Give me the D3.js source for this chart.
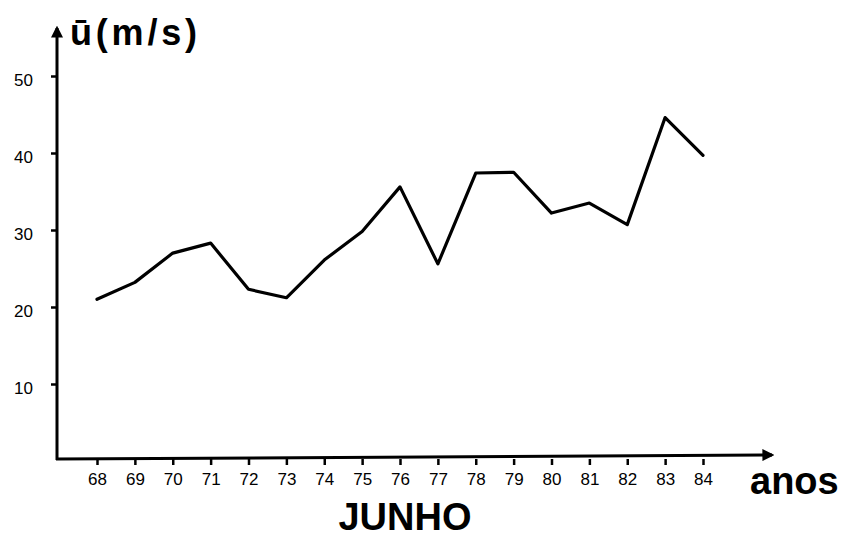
<!DOCTYPE html>
<html>
<head>
<meta charset="utf-8">
<script src="https://cdn.jsdelivr.net/npm/d3@7"></script>
<style>
  body { margin: 0; background: #fff; }
  svg { display: block; }
  .tick text { font-family: "Liberation Sans", Arial, sans-serif; font-size: 17px; fill: #000; }
</style>
</head>
<body>
<svg id="chart" width="841" height="541"></svg>
<script>
// Mean wind speed (m/s) for June, years 68-84
const years = [68, 69, 70, 71, 72, 73, 74, 75, 76, 77, 78, 79, 80, 81, 82, 83, 84];
const speeds = [21, 23.2, 27, 28.3, 22.3, 21.2, 26.1, 29.8, 35.6, 25.6, 37.4, 37.5, 32.2, 33.5, 30.7, 44.6, 39.7];
const yTicks = [10, 20, 30, 40, 50];

const svg = d3.select("#chart");
const axisX = 57;
const axisY = 459;

const x = d3.scaleLinear().domain([68, 84]).range([97, 703]);
const y = d3.scaleLinear().domain([0, 50]).range([461, 76]);

// arrow heads
const defs = svg.append("defs");
defs.append("marker")
    .attr("id", "arrow")
    .attr("viewBox", "0 0 10 10")
    .attr("refX", 8)
    .attr("refY", 5)
    .attr("markerWidth", 4)
    .attr("markerHeight", 4)
    .attr("markerUnits", "strokeWidth")
    .attr("orient", "auto")
    .append("path")
    .attr("d", "M0,0 L10,5 L0,10 Z")
    .attr("fill", "#000");

// axis lines
svg.append("line")
    .attr("x1", axisX).attr("y1", axisY + 1)
    .attr("x2", axisX).attr("y2", 28)
    .attr("stroke", "#000").attr("stroke-width", 3)
    .attr("marker-end", "url(#arrow)");

svg.append("line")
    .attr("x1", axisX - 1).attr("y1", axisY)
    .attr("x2", 772).attr("y2", axisY - 4)
    .attr("stroke", "#000").attr("stroke-width", 3)
    .attr("marker-end", "url(#arrow)");

// y ticks
const yAxis = svg.append("g")
    .attr("transform", `translate(${axisX},0)`)
    .call(d3.axisLeft(y).tickValues(yTicks).tickSize(6).tickPadding(18).tickSizeOuter(0));
yAxis.select(".domain").remove();
yAxis.selectAll(".tick line").attr("stroke", "#000").attr("stroke-width", 2.5);
yAxis.selectAll(".tick text").attr("dy", "0.55em");

// x ticks
const xAxis = svg.append("g")
    .attr("transform", `translate(0,${axisY})`)
    .call(d3.axisBottom(x).tickValues(years).tickFormat(d3.format("d")).tickSize(6).tickPadding(8).tickSizeOuter(0));
xAxis.select(".domain").remove();
xAxis.selectAll(".tick line").attr("stroke", "#000").attr("stroke-width", 2.5);

// data line
const line = d3.line()
    .x((d, i) => x(years[i]))
    .y(d => y(d));

svg.append("path")
    .datum(speeds)
    .attr("d", line)
    .attr("fill", "none")
    .attr("stroke", "#000")
    .attr("stroke-width", 3.2)
    .attr("stroke-linejoin", "round")
    .attr("stroke-linecap", "round");

// labels
svg.append("text")
    .attr("x", 70).attr("y", 45)
    .attr("font-family", "Liberation Sans, Arial, sans-serif")
    .attr("font-weight", "bold")
    .attr("font-size", 36)
    .attr("textLength", 127)
    .attr("lengthAdjust", "spacing")
    .text("ū(m/s)");

svg.append("text")
    .attr("x", 750).attr("y", 494)
    .attr("font-family", "Liberation Sans, Arial, sans-serif")
    .attr("font-weight", "bold")
    .attr("font-size", 38)
    .text("anos");

svg.append("text")
    .attr("x", 405).attr("y", 530)
    .attr("text-anchor", "middle")
    .attr("font-family", "Liberation Sans, Arial, sans-serif")
    .attr("font-weight", "bold")
    .attr("font-size", 38)
    .text("JUNHO");
</script>
</body>
</html>
